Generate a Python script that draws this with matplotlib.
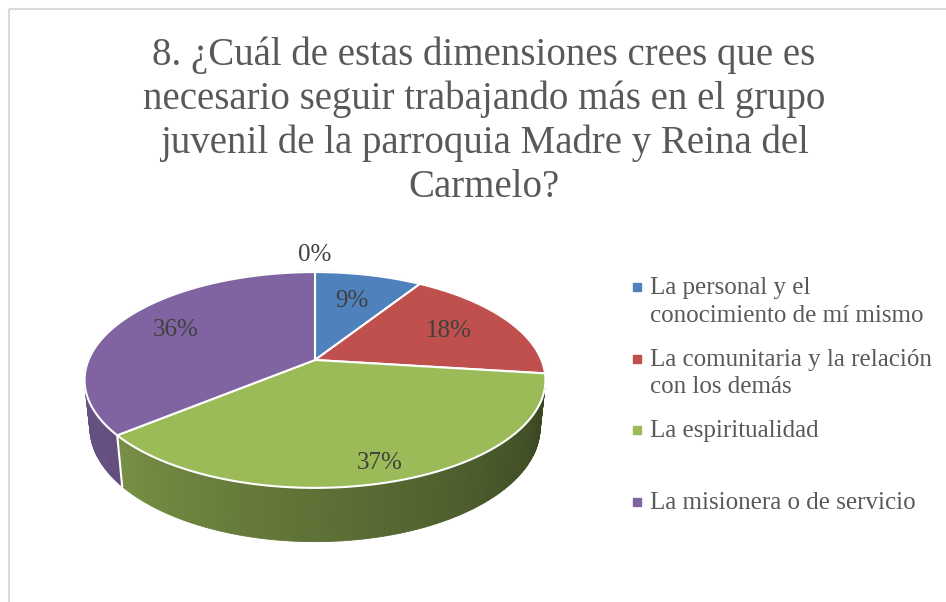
import numpy as np
import matplotlib.pyplot as plt
from matplotlib.patches import Polygon, Rectangle
from matplotlib.collections import PolyCollection

plt.rcParams['font.family'] = ['Liberation Serif', 'DejaVu Serif']

# Data
title = ('8. ¿Cuál de estas dimensiones crees que es\n'
         'necesario seguir trabajando más en el grupo\n'
         'juvenil de la parroquia Madre y Reina del\n'
         'Carmelo?')
legend_names = ['La personal y el\nconocimiento de mí mismo',
                'La comunitaria y la relación\ncon los demás',
                'La espiritualidad',
                'La misionera o de servicio']
percents = [9, 18, 37, 36, 0]   # last slice has 0% (no legend entry)
colors = ['#4f81bd', '#c0504d', '#9bbb59', '#8064a2', '#f79646']

# simple perspective camera for the 3D pie (output in pixels)
CX, CY = 315, 360        # where the pie centre lands
F = 1087.0               # focal length
D = 4.80                 # camera distance (pie radius = 1)
ELEV = np.radians(27.4)  # camera elevation
T = 0.2387               # pie thickness
label_radius = [0.66, 0.69, 0.87, 0.72, 1.24]


def proj(theta, f=1.0, z=0.0):
    t = np.radians(theta)
    x, y = f * np.sin(t), f * np.cos(t)
    yc = y * np.sin(ELEV) + z * np.cos(ELEV)
    zc = D + y * np.cos(ELEV) - z * np.sin(ELEV)
    return CX + F * x / zc, CY - F * yc / zc


def shade(hexcol, factor):
    c = np.array([int(hexcol[i:i + 2], 16) for i in (1, 3, 5)]) / 255.0
    return tuple(np.clip(c * factor, 0, 1))


fig = plt.figure(figsize=(9.46, 6.02), dpi=100)
ax = fig.add_axes([0, 0, 1, 1])
ax.set_xlim(0, 946)
ax.set_ylim(602, 0)
ax.axis('off')

ax.add_patch(Rectangle((8.5, 8.5), 960, 620, fill=False,
                       edgecolor='#d9d9d9', lw=1.5))

total = float(sum(percents))
edges = np.concatenate([[0], np.cumsum(percents) / total * 360.0])

# side walls, back to front
quads, qcols, depth = [], [], []
for i, col in enumerate(colors):
    a0, a1 = edges[i], edges[i + 1]
    if a1 <= a0:
        continue
    steps = np.linspace(a0, a1, max(2, int((a1 - a0) / 1.0) + 1))
    for t0, t1 in zip(steps[:-1], steps[1:]):
        quads.append([proj(t0), proj(t1), proj(t1, z=-T), proj(t0, z=-T)])
        tm = 0.5 * (t0 + t1)
        f = 0.38 + 0.42 * np.clip((tm - 110) / 130.0, 0, 1)
        qcols.append(shade(col, f))
        depth.append(np.cos(np.radians(tm)))
order = np.argsort(depth)[::-1]
ax.add_collection(PolyCollection([quads[j] for j in order],
                                 facecolors=[qcols[j] for j in order],
                                 edgecolors=[qcols[j] for j in order],
                                 linewidths=0.6))

# white seams on the front wall
for a in edges:
    if np.cos(np.radians(a)) < -0.3:
        x0, y0 = proj(a)
        x1, y1 = proj(a, z=-T)
        ax.plot([x0, x1], [y0, y1], color='white', lw=1.5)

# top face
for i, col in enumerate(colors):
    a0, a1 = edges[i], edges[i + 1]
    if a1 <= a0:
        continue
    ts = np.linspace(a0, a1, max(2, int(a1 - a0) + 1))
    pts = [(CX, CY)] + [proj(t) for t in ts]
    ax.add_patch(Polygon(pts, closed=True, facecolor=col, edgecolor='white',
                         lw=1.5, joinstyle='round'))

# data labels
for i, p in enumerate(percents):
    mid = 0.5 * (edges[i] + edges[i + 1])
    if p == 0 and mid == 360:
        mid = 0.0
    x, y = proj(mid, f=label_radius[i])
    ax.text(x, y, f'{p}%', ha='center', va='center', fontsize=18,
            color='#404040')

# title
ax.text(484, 36, title, ha='center', va='top', fontsize=28,
        color='#595959', linespacing=1.24)

# legend
for i, name in enumerate(legend_names):
    yb = 295 + i * 71.7
    ax.plot([636.5], [yb - 8], marker='s', markersize=5.2, color=colors[i],
            linestyle='none')
    ax.text(650, yb - 18, name, ha='left', va='top', fontsize=18,
            color='#595959', linespacing=1.34)

fig.savefig('out.png', dpi=100)
